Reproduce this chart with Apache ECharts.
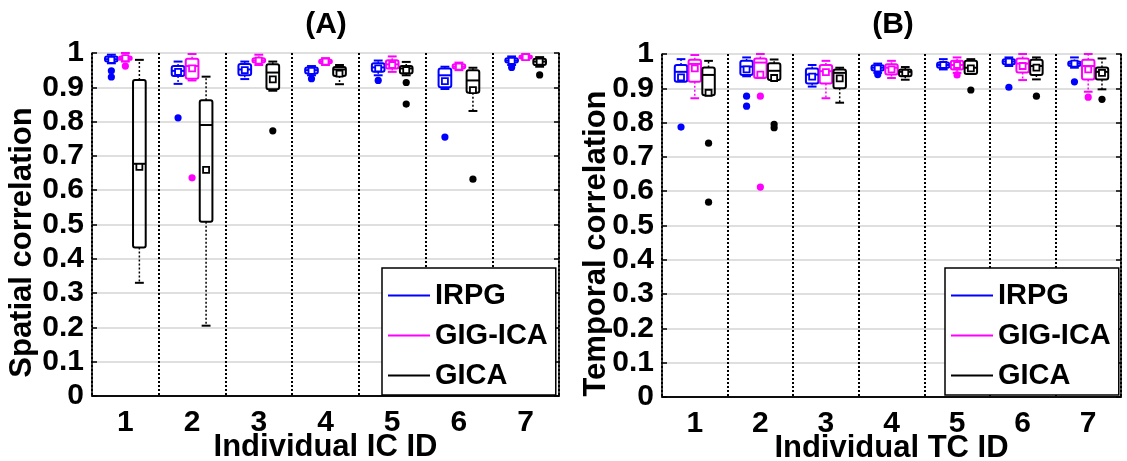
<!DOCTYPE html>
<html>
<head>
<meta charset="utf-8">
<script src="https://cdn.jsdelivr.net/npm/echarts@6/dist/echarts.min.js"></script>
<style>
  html, body { margin: 0; padding: 0; background: #fff; }
  #chart { width: 1127px; height: 461px; }
</style>
</head>
<body>
<div id="chart"></div>
<script>
// Component IDs on the x axes
const categories = ['1', '2', '3', '4', '5', '6', '7'];
const methods = ['IRPG', 'GIG-ICA', 'GICA'];
const yTicks = [0, 0.1, 0.2, 0.3, 0.4, 0.5, 0.6, 0.7, 0.8, 0.9, 1];

// (A) spatial correlation: per component [min, q1, median, q3, max]
const spatialIRPG = [
  [0.970, 0.975, 0.982, 0.990, 0.995],
  [0.910, 0.933, 0.948, 0.962, 0.975],
  [0.924, 0.935, 0.952, 0.968, 0.975],
  [0.935, 0.940, 0.950, 0.958, 0.962],
  [0.935, 0.945, 0.958, 0.970, 0.978],
  [0.895, 0.900, 0.935, 0.955, 0.960],
  [0.965, 0.972, 0.978, 0.985, 0.990]
];
const spatialIRPGMean = [0.980, 0.945, 0.950, 0.948, 0.955, 0.918, 0.977];
const spatialIRPGOut = [[0.948, 0.930], [0.811], [], [0.925], [0.920], [0.755], [0.958]];

const spatialGIG = [
  [0.975, 0.980, 0.985, 0.990, 1.000],
  [0.920, 0.925, 0.962, 0.983, 0.997],
  [0.965, 0.972, 0.978, 0.985, 0.995],
  [0.965, 0.970, 0.975, 0.980, 0.985],
  [0.945, 0.955, 0.967, 0.979, 0.990],
  [0.950, 0.955, 0.960, 0.967, 0.972],
  [0.980, 0.984, 0.988, 0.992, 0.997]
];
const spatialGIGMean = [0.985, 0.955, 0.978, 0.975, 0.965, 0.960, 0.988];
const spatialGIGOut = [[0.962], [0.636], [], [], [], [], []];

const spatialGICA = [
  [0.330, 0.433, 0.677, 0.921, 0.980],
  [0.205, 0.508, 0.790, 0.862, 0.931],
  [0.890, 0.894, 0.943, 0.967, 0.975],
  [0.909, 0.933, 0.952, 0.959, 0.965],
  [0.935, 0.940, 0.955, 0.962, 0.974],
  [0.831, 0.884, 0.920, 0.950, 0.957],
  [0.960, 0.965, 0.975, 0.983, 0.988]
];
const spatialGICAMean = [0.668, 0.659, 0.923, 0.940, 0.950, 0.892, 0.975];
const spatialGICAOut = [[], [], [0.773], [], [0.914, 0.851], [0.632], [0.936]];

// (B) temporal correlation: per component [min, q1, median, q3, max]
const temporalIRPG = [
  [0.919, 0.919, 0.948, 0.968, 0.985],
  [0.935, 0.939, 0.963, 0.980, 0.990],
  [0.905, 0.914, 0.940, 0.958, 0.968],
  [0.945, 0.952, 0.960, 0.967, 0.972],
  [0.955, 0.960, 0.968, 0.975, 0.985],
  [0.965, 0.970, 0.978, 0.985, 0.990],
  [0.960, 0.965, 0.972, 0.978, 0.990]
];
const temporalIRPGMean = [0.932, 0.955, 0.934, 0.958, 0.968, 0.978, 0.972];
const temporalIRPGOut = [[0.787], [0.877, 0.848], [], [0.940], [], [0.903], [0.919]];

const temporalGIG = [
  [0.871, 0.919, 0.971, 0.983, 0.997],
  [0.930, 0.930, 0.975, 0.987, 1.000],
  [0.871, 0.914, 0.950, 0.968, 0.980],
  [0.930, 0.940, 0.960, 0.970, 0.980],
  [0.945, 0.955, 0.968, 0.980, 0.990],
  [0.924, 0.946, 0.972, 0.987, 1.000],
  [0.890, 0.926, 0.965, 0.983, 1.000]
];
const temporalGIGMean = [0.958, 0.940, 0.947, 0.955, 0.968, 0.965, 0.955];
const temporalGIGOut = [[], [0.877, 0.612], [], [], [0.939], [], [0.874]];

const temporalGICA = [
  [0.880, 0.880, 0.939, 0.961, 0.980],
  [0.924, 0.924, 0.951, 0.973, 0.984],
  [0.858, 0.900, 0.945, 0.955, 0.960],
  [0.925, 0.935, 0.948, 0.955, 0.962],
  [0.942, 0.942, 0.960, 0.980, 0.985],
  [0.926, 0.939, 0.965, 0.983, 0.990],
  [0.897, 0.926, 0.948, 0.961, 0.987]
];
const temporalGICAMean = [0.887, 0.930, 0.929, 0.945, 0.958, 0.960, 0.945];
const temporalGICAOut = [[0.740, 0.568], [0.795, 0.785], [], [], [0.895], [0.877], [0.868]];

const colors = { 'IRPG': '#0000ff', 'GIG-ICA': '#ff00ff', 'GICA': '#000000' };
const offsets = { 'IRPG': -0.21, 'GIG-ICA': 0, 'GICA': 0.21 };
const FONT = 'Liberation Sans, Arial, sans-serif';

function boxData(stats, means) {
  return stats.map((s, i) => [i, s[0], s[1], s[2], s[3], s[4], means[i]]);
}
function outlierData(outs) {
  const d = [];
  outs.forEach((vals, i) => vals.forEach(v => d.push([i, v])));
  return d;
}

// Box with dotted whiskers, end caps, median line and a square for the mean
function boxRenderer(name) {
  const color = colors[name];
  const off = offsets[name];
  return function (params, api) {
    const cat = api.value(0);
    const band = api.size([1, 0])[0];
    const cx = api.coord([cat, 0])[0] + off * band;
    const w = band * 0.19;
    const y = k => api.coord([cat, api.value(k)])[1];
    const yMin = y(1), yQ1 = y(2), yMed = y(3), yQ3 = y(4), yMax = y(5), yMean = y(6);
    const solid = { stroke: color, lineWidth: 2, fill: null };
    const dotted = { stroke: color, lineWidth: 1.5, lineDash: [2, 2], fill: null };
    const cap = w * 0.35;
    const children = [];
    if (yMax < yQ3 - 0.5) {
      children.push({ type: 'line', shape: { x1: cx, y1: yQ3, x2: cx, y2: yMax }, style: dotted });
      children.push({ type: 'line', shape: { x1: cx - cap, y1: yMax, x2: cx + cap, y2: yMax }, style: solid });
    }
    if (yMin > yQ1 + 0.5) {
      children.push({ type: 'line', shape: { x1: cx, y1: yQ1, x2: cx, y2: yMin }, style: dotted });
      children.push({ type: 'line', shape: { x1: cx - cap, y1: yMin, x2: cx + cap, y2: yMin }, style: solid });
    }
    children.push({ type: 'rect', shape: { x: cx - w / 2, y: yQ3, width: w, height: Math.max(yQ1 - yQ3, 1), r: 2 }, style: solid });
    children.push({ type: 'line', shape: { x1: cx - w / 2, y1: yMed, x2: cx + w / 2, y2: yMed }, style: solid });
    children.push({ type: 'rect', shape: { x: cx - 3, y: yMean - 3, width: 6, height: 6 }, style: { stroke: color, lineWidth: 1.8, fill: '#fff' } });
    return { type: 'group', children: children };
  };
}

function outlierRenderer(name) {
  const color = colors[name];
  const off = offsets[name];
  return function (params, api) {
    const cat = api.value(0);
    const band = api.size([1, 0])[0];
    const p = api.coord([cat, api.value(1)]);
    return { type: 'circle', shape: { cx: p[0] + off * band, cy: p[1], r: 3.6 }, style: { fill: color } };
  };
}

const panels = [
  { box: [spatialIRPG, spatialGIG, spatialGICA], mean: [spatialIRPGMean, spatialGIGMean, spatialGICAMean],
    out: [spatialIRPGOut, spatialGIGOut, spatialGICAOut] },
  { box: [temporalIRPG, temporalGIG, temporalGICA], mean: [temporalIRPGMean, temporalGIGMean, temporalGICAMean],
    out: [temporalIRPGOut, temporalGIGOut, temporalGICAOut] }
];

const series = [];
panels.forEach((p, pi) => {
  methods.forEach((m, mi) => {
    series.push({
      type: 'custom', name: m, xAxisIndex: pi * 2, yAxisIndex: pi * 2,
      itemStyle: { color: colors[m] }, renderItem: boxRenderer(m),
      encode: { x: 0, y: [1, 2, 3, 4, 5, 6] }, data: boxData(p.box[mi], p.mean[mi]), z: 3
    });
    series.push({
      type: 'custom', name: m, xAxisIndex: pi * 2, yAxisIndex: pi * 2,
      itemStyle: { color: colors[m] }, renderItem: outlierRenderer(m),
      encode: { x: 0, y: 1 }, data: outlierData(p.out[mi]), z: 3
    });
  });
});

const grids = [
  { left: 92, top: 53, width: 467, height: 343 },
  { left: 662, top: 54, width: 459, height: 343 }
];
const axisNames = [['Individual IC ID', 'Spatial correlation'], ['Individual TC ID', 'Temporal correlation']];
const yNameGaps = [54, 50];

const xAxis = [], yAxis = [];
grids.forEach((g, gi) => {
  xAxis.push({
    type: 'category', gridIndex: gi, data: categories, position: 'bottom',
    name: axisNames[gi][0], nameLocation: 'middle', nameGap: 36, nameMoveOverlap: false,
    nameTextStyle: { fontFamily: FONT, fontWeight: 'bold', fontSize: 31, color: '#000', lineHeight: 30 },
    axisLine: { lineStyle: { color: '#000', width: 1.5 } },
    axisTick: { inside: true, alignWithLabel: true, length: 5, lineStyle: { color: '#000', width: 1.5 } },
    axisLabel: { fontFamily: FONT, fontWeight: 'bold', fontSize: 30, color: '#000', margin: 12 },
    splitLine: { show: true, interval: 0, lineStyle: { color: '#000', width: 2, type: [2, 2] } }
  });
  xAxis.push({
    type: 'category', gridIndex: gi, data: categories, position: 'top',
    axisLine: { lineStyle: { color: '#000', width: 1.5 } },
    axisTick: { inside: true, alignWithLabel: true, length: 5, lineStyle: { color: '#000', width: 1.5 } },
    axisLabel: { show: false }, splitLine: { show: false }
  });
  yAxis.push({
    type: 'value', gridIndex: gi, min: 0, max: 1, interval: 0.1, position: 'left',
    name: axisNames[gi][1], nameLocation: 'middle', nameGap: yNameGaps[gi], nameMoveOverlap: false,
    nameTextStyle: { fontFamily: FONT, fontWeight: 'bold', fontSize: 31, color: '#000', padding: [0, 36, 0, 0] },
    axisLine: { show: true, lineStyle: { color: '#000', width: 1.5 } },
    axisTick: { show: true, inside: true, length: 5, lineStyle: { color: '#000', width: 1.5 } },
    axisLabel: {
      fontFamily: FONT, fontWeight: 'bold', fontSize: 30, color: '#000', margin: 8,
      formatter: v => { const t = yTicks.find(tk => Math.abs(tk - v) < 1e-9); return String(t !== undefined ? t : v); }
    },
    splitLine: { show: true, lineStyle: { color: '#d4d4d4', width: 1.5 } }
  });
  yAxis.push({
    type: 'value', gridIndex: gi, min: 0, max: 1, interval: 0.1, position: 'right',
    axisLine: { show: true, lineStyle: { color: '#000', width: 1.5 } },
    axisTick: { show: true, inside: true, length: 5, lineStyle: { color: '#000', width: 1.5 } },
    axisLabel: { show: false }, splitLine: { show: false }
  });
});

const legendBase = {
  orient: 'vertical', data: methods, icon: 'rect', itemWidth: 42, itemHeight: 2, itemGap: 11,
  backgroundColor: '#fff', borderColor: '#000', borderWidth: 1.5, borderRadius: 0,
  padding: [13, 8, 5, 6], selectedMode: false,
  textStyle: { fontFamily: FONT, fontWeight: 'bold', fontSize: 29, color: '#000', lineHeight: 28 }
};

const option = {
  animation: false,
  backgroundColor: '#fff',
  title: [
    { text: '(A)', left: 321, top: 5, textAlign: 'center',
      textStyle: { fontFamily: FONT, fontWeight: 'bold', fontSize: 30, color: '#000' } },
    { text: '(B)', left: 888, top: 5, textAlign: 'center',
      textStyle: { fontFamily: FONT, fontWeight: 'bold', fontSize: 30, color: '#000' } }
  ],
  legend: [
    Object.assign({}, legendBase, { left: 382, top: 268 }),
    Object.assign({}, legendBase, { left: 945, top: 268 })
  ],
  grid: grids.map(g => Object.assign({ show: false, containLabel: false, outerBoundsMode: 'none' }, g)),
  xAxis: xAxis,
  yAxis: yAxis,
  series: series
};

const chart = echarts.init(document.getElementById('chart'), null, { renderer: 'canvas' });
chart.setOption(option);
</script>
</body>
</html>
